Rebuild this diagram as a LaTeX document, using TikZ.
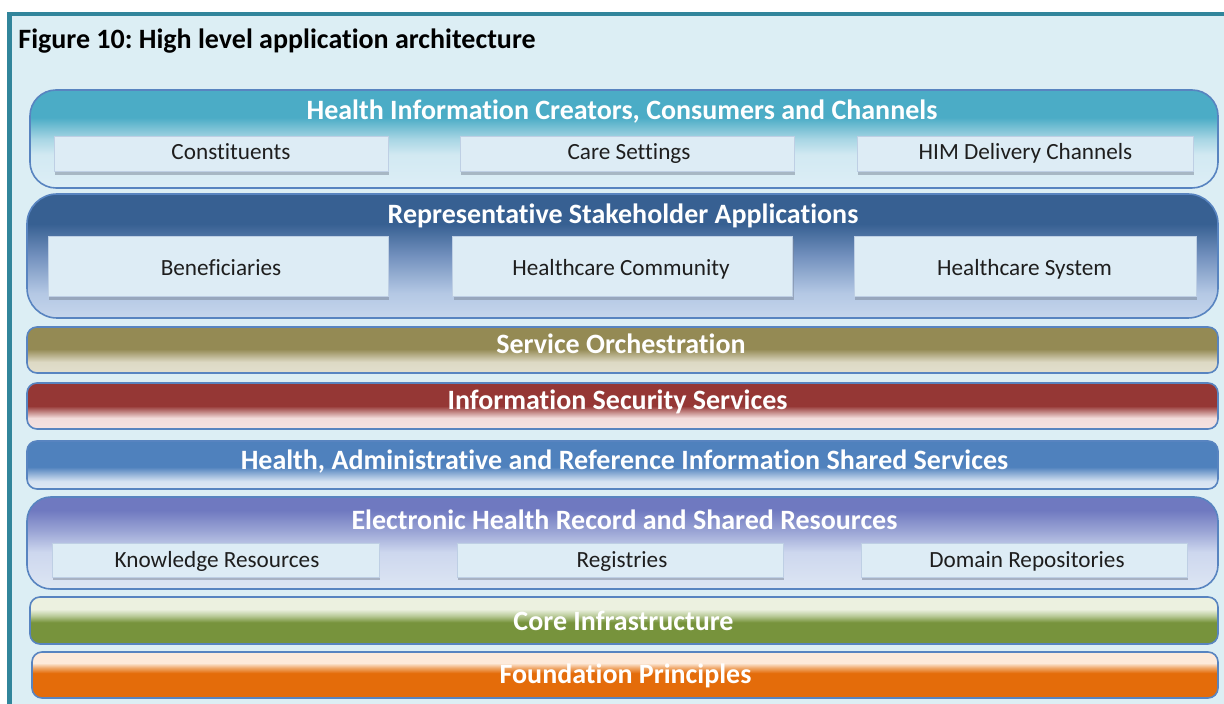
\documentclass[tikz,border=0pt]{standalone}
\usepackage{fontspec}
\setmainfont{Carlito}[Ligatures=NoCommon]
\frenchspacing
\usetikzlibrary{shadows}
\definecolor{bgc}{RGB}{220,238,244}
\definecolor{framec}{RGB}{49,133,155}
\definecolor{linec}{RGB}{88,132,192}
\definecolor{subfill}{RGB}{221,236,245}
\definecolor{subline}{RGB}{190,207,228}
\definecolor{subtext}{RGB}{30,30,30}
\definecolor{shadowc}{RGB}{120,132,150}
% layer 1
\definecolor{hA}{RGB}{75,172,198}\definecolor{hB}{RGB}{168,214,228}\definecolor{hC}{RGB}{210,233,242}\definecolor{hD}{RGB}{221,238,246}
% layer 2
\definecolor{rA}{RGB}{55,96,146}\definecolor{rB}{RGB}{115,145,190}\definecolor{rC}{RGB}{180,200,228}\definecolor{rD}{RGB}{198,214,236}
% service orchestration
\definecolor{sA}{RGB}{148,138,84}\definecolor{sB}{RGB}{221,217,196}\definecolor{sC}{RGB}{226,223,206}
% security
\definecolor{iA}{RGB}{149,55,53}\definecolor{iB}{RGB}{242,220,219}\definecolor{iC}{RGB}{244,226,226}
% shared services
\definecolor{aA}{RGB}{79,129,189}\definecolor{aB}{RGB}{214,227,242}\definecolor{aC}{RGB}{222,232,244}
% ehr
\definecolor{eA}{RGB}{111,121,192}\definecolor{eB}{RGB}{152,162,212}\definecolor{eC}{RGB}{205,215,238}\definecolor{eD}{RGB}{221,230,243}
% core
\definecolor{cA}{RGB}{236,241,224}\definecolor{cB}{RGB}{185,202,152}\definecolor{cC}{RGB}{119,147,60}
% foundation
\definecolor{fA}{RGB}{253,234,218}\definecolor{fB}{RGB}{240,170,110}\definecolor{fC}{RGB}{228,108,10}
% vertical shadings: 25bp = bottom of path, 75bp = top of path
\pgfdeclareverticalshading{shHIC}{100bp}{color(0bp)=(hD); color(25bp)=(hD); color(42bp)=(hC); color(50bp)=(hB); color(61bp)=(hA); color(100bp)=(hA)}
\pgfdeclareverticalshading{shRSA}{100bp}{color(0bp)=(rD); color(25bp)=(rD); color(35bp)=(rC); color(50bp)=(rB); color(63bp)=(rA); color(100bp)=(rA)}
\pgfdeclareverticalshading{shSO}{100bp}{color(0bp)=(sC); color(25bp)=(sC); color(37bp)=(sB); color(51bp)=(sA); color(100bp)=(sA)}
\pgfdeclareverticalshading{shISS}{100bp}{color(0bp)=(iC); color(25bp)=(iC); color(37bp)=(iB); color(50bp)=(iA); color(100bp)=(iA)}
\pgfdeclareverticalshading{shHAR}{100bp}{color(0bp)=(aC); color(25bp)=(aC); color(33bp)=(aB); color(48bp)=(aA); color(100bp)=(aA)}
\pgfdeclareverticalshading{shEHR}{100bp}{color(0bp)=(eD); color(25bp)=(eD); color(45bp)=(eC); color(57bp)=(eB); color(68bp)=(eA); color(100bp)=(eA)}
\pgfdeclareverticalshading{shCI}{100bp}{color(0bp)=(cC); color(48bp)=(cC); color(55bp)=(cB); color(62bp)=(cA); color(100bp)=(cA)}
\pgfdeclareverticalshading{shFP}{100bp}{color(0bp)=(fC); color(52bp)=(fC); color(58bp)=(fB); color(63bp)=(fA); color(100bp)=(fA)}
\tikzset{
  layer/.style={shade, draw=linec, line width=0.8pt, inner sep=0pt, outer sep=0pt},
  subbox/.style={fill=subfill, draw=subline, line width=0.5pt, inner sep=0pt,
    drop shadow={shadow xshift=0.7pt, shadow yshift=-1.3pt, fill=shadowc, opacity=0.5}},
  ltitle/.style={anchor=base, text=white, font=\bfseries\fontsize{14}{16}\selectfont, inner sep=0pt},
  stext/.style={anchor=base, text=subtext, font=\fontsize{11.6}{14}\selectfont, inner sep=0pt},
}
\begin{document}
\begin{tikzpicture}[x=0.5pt, y=-0.5pt]
\useasboundingbox (0,0) rectangle (1224,704);
\fill[white] (0,0) rectangle (1224,704);
\fill[bgc] (7,12) rectangle (1224,704);
\fill[framec] (7,11.7) rectangle (1224,16);
\fill[framec] (7,11.7) rectangle (12,704);
\node[anchor=base west, inner sep=0pt, font=\bfseries\fontsize{14}{16}\selectfont] (fig) at (18,49) {Figure 10: High level application architecture};
% layer 1
\node[layer, shading=shHIC, rounded corners=13pt, minimum width=594pt, minimum height=49pt] (hic) at (624,139) {};
\node[ltitle] (hict) at (622,120) {Health Information Creators, Consumers and Channels};
\node[subbox, minimum width=167pt, minimum height=17.5pt] (cons) at (221,154.5) {};
\node[subbox, minimum width=167pt, minimum height=17.5pt] (care) at (627,154.5) {};
\node[subbox, minimum width=168pt, minimum height=17.5pt] (him) at (1025,154.5) {};
\node[stext] (const) at (231,160) {Constituents};
\node[stext] (caret) at (629,160) {Care Settings};
\node[stext] (himt) at (1025.5,160) {HIM Delivery Channels};
% layer 2
\node[layer, shading=shRSA, rounded corners=15pt, minimum width=595.5pt, minimum height=62pt] (rsa) at (622.5,256) {};
\node[ltitle] (rsat) at (623,224) {Representative Stakeholder Applications};
\node[subbox, minimum width=170pt, minimum height=30.25pt] (ben) at (218,266.75) {};
\node[subbox, minimum width=170pt, minimum height=30.25pt] (hcc) at (622.7,266.75) {};
\node[subbox, minimum width=171pt, minimum height=30.25pt] (hcs) at (1025,266.75) {};
\node[stext] (bent) at (221,276) {Beneficiaries};
\node[stext] (hcct) at (621,276) {Healthcare Community};
\node[stext] (hcst) at (1024.5,276) {Healthcare System};
% bands
\node[layer, shading=shSO, rounded corners=5pt, minimum width=595.5pt, minimum height=23pt] (so) at (622.5,350) {};
\node[ltitle] (sot) at (621,353.5) {Service Orchestration};
\node[layer, shading=shISS, rounded corners=5pt, minimum width=595.5pt, minimum height=23pt] (iss) at (622.5,406) {};
\node[ltitle] (isst) at (617.5,409.5) {Information Security Services};
\node[layer, shading=shHAR, rounded corners=5pt, minimum width=595.5pt, minimum height=24pt] (har) at (622.5,465) {};
\node[ltitle] (hart) at (624.5,469.5) {Health, Administrative and Reference Information Shared Services};
% ehr
\node[layer, shading=shEHR, rounded corners=12pt, minimum width=595.5pt, minimum height=46pt] (ehr) at (622.5,543) {};
\node[ltitle] (ehrt) at (624.5,529.5) {Electronic Health Record and Shared Resources};
\node[subbox, minimum width=163.5pt, minimum height=17pt] (kr) at (215.5,560) {};
\node[subbox, minimum width=163pt, minimum height=17pt] (reg) at (620,560) {};
\node[subbox, minimum width=163pt, minimum height=17pt] (dr) at (1024,560) {};
\node[stext] (krt) at (217,567.5) {Knowledge Resources};
\node[stext] (regt) at (622,567.5) {Registries};
\node[stext] (drt) at (1027,567.5) {Domain Repositories};
% core + foundation
\node[layer, shading=shCI, rounded corners=5pt, minimum width=594pt, minimum height=23.5pt] (ci) at (624,620.5) {};
\node[ltitle] (cit) at (623.5,630.5) {Core Infrastructure};
\node[layer, shading=shFP, rounded corners=5pt, minimum width=593pt, minimum height=23pt] (fp) at (625,675) {};
\node[ltitle] (fpt) at (625.5,683.5) {Foundation Principles};
\end{tikzpicture}
\end{document}
